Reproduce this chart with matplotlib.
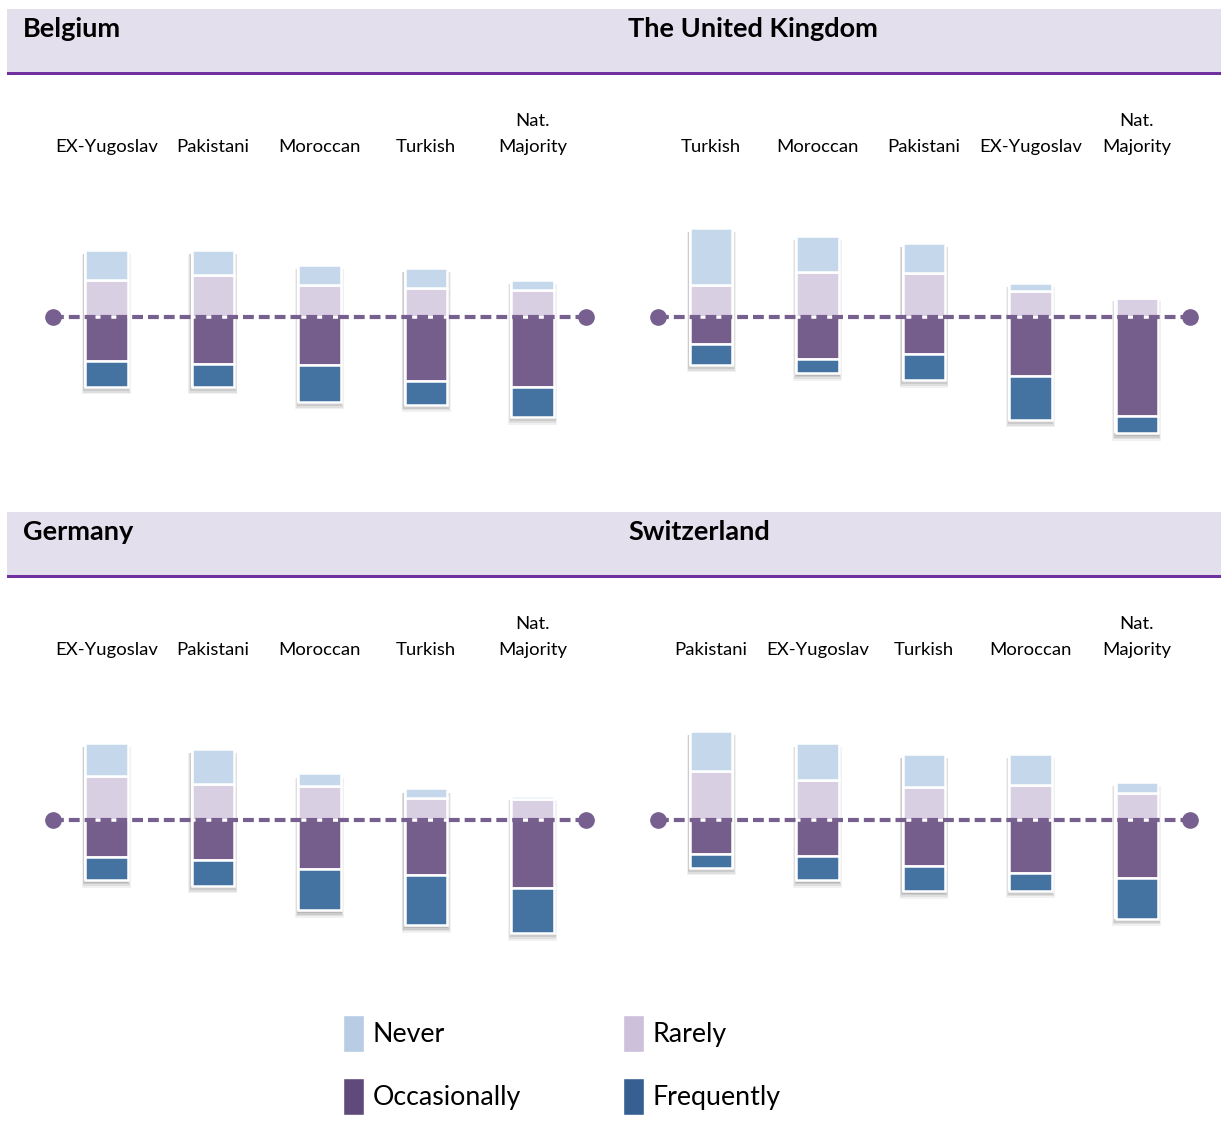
import matplotlib
matplotlib.use("Agg")
import matplotlib.pyplot as plt
from matplotlib.patches import Patch, Rectangle

plt.rcParams["font.family"] = ["Lato", "DejaVu Sans"]

W, H = 1221, 1135

# Antwortkategorien
LEVELS = ["Never", "Rarely", "Occasionally", "Frequently"]
BAR_COLORS = ["#c5d8eb", "#d8cfe2", "#765e8c", "#4473a1"]
LEGEND_COLORS = ["#b8cce4", "#ccc0da", "#604a7b", "#366092"]

# Belgium
be_groups = ["EX-Yugoslav", "Pakistani", "Moroccan", "Turkish", "Nat.\nMajority"]
be_never = [22, 18, 15, 15, 7]
be_rarely = [27, 31, 23, 21, 20]
be_occ = [32, 34, 35, 47, 51]
be_freq = [19, 17, 27, 17, 22]

# The United Kingdom
uk_groups = ["Turkish", "Moroccan", "Pakistani", "EX-Yugoslav", "Nat.\nMajority"]
uk_never = [42, 26, 22, 6, 1]
uk_rarely = [23, 33, 32, 19, 14]
uk_occ = [20, 31, 27, 43, 72]
uk_freq = [15, 10, 19, 32, 13]

# Germany
de_groups = ["EX-Yugoslav", "Pakistani", "Moroccan", "Turkish", "Nat.\nMajority"]
de_never = [24, 26, 9, 7, 2]
de_rarely = [32, 26, 25, 16, 15.5]
de_occ = [27, 29, 36, 40.5, 49.5]
de_freq = [17, 19, 30, 36.5, 33]

# Switzerland
ch_groups = ["Pakistani", "EX-Yugoslav", "Turkish", "Moroccan", "Nat.\nMajority"]
ch_never = [29, 27, 24, 23, 8]
ch_rarely = [36, 29, 24, 25.5, 20]
ch_occ = [25, 26.5, 33.5, 38.5, 42.5]
ch_freq = [10, 17.5, 18.5, 13, 29.5]

PANELS = [
    ("Belgium", be_groups, be_never, be_rarely, be_occ, be_freq, 0, 0),
    ("The United Kingdom", uk_groups, uk_never, uk_rarely, uk_occ, uk_freq, 0, 1),
    ("Germany", de_groups, de_never, de_rarely, de_occ, de_freq, 1, 0),
    ("Switzerland", ch_groups, ch_never, ch_rarely, ch_occ, ch_freq, 1, 1),
]

LINE_COLOR = "#77608f"
BAR_W = 0.4


def fx(px):
    return px / W


def fy(py):
    return 1 - py / H


fig = plt.figure(figsize=(W / 100, H / 100), dpi=100)

# Kopfbänder
for row, top in enumerate([9, 512]):
    fig.add_artist(Rectangle((fx(7), fy(top + 63)), fx(1214), 63 / H,
                             transform=fig.transFigure, facecolor="#e4dfec",
                             edgecolor="none", zorder=0))
    fig.add_artist(Rectangle((fx(7), fy(top + 66)), fx(1214), 3.2 / H,
                             transform=fig.transFigure, facecolor="#7030a0",
                             edgecolor="none", zorder=1))


def draw_panel(title, groups, never, rarely, occ, freq, row, col):
    base = 317 if row == 0 else 820
    left = 53 if col == 0 else 658
    right = 586 if col == 0 else 1190
    ax = fig.add_axes([fx(left), fy(base + 137), fx(right - left), 274 / H])
    ax.set_xlim(-0.5, len(groups) - 0.5)
    ax.set_ylim(-100, 100)
    x = list(range(len(groups)))

    up_total = [n + r for n, r in zip(never, rarely)]
    down_total = [o + f for o, f in zip(occ, freq)]

    # weicher Schatten unter den Balken
    for grow, drop, a in [(0.06, 5.5, 0.08), (0.045, 4.2, 0.11),
                          (0.03, 3.0, 0.14), (0.015, 1.8, 0.17)]:
        ax.bar(x, [u + d + drop - 3 for u, d in zip(up_total, down_total)],
               BAR_W + grow, bottom=[-d - drop for d in down_total],
               color="#555555", alpha=a, edgecolor="none", zorder=1)
    ax.bar(x, [u + d for u, d in zip(up_total, down_total)], BAR_W + 0.02,
           bottom=[-d for d in down_total], color="white", edgecolor="none",
           zorder=1.5)

    kw = dict(width=BAR_W, edgecolor="white", linewidth=1.8, zorder=2)
    ax.bar(x, rarely, color=BAR_COLORS[1], **kw)
    ax.bar(x, never, bottom=rarely, color=BAR_COLORS[0], **kw)
    ax.bar(x, [-v for v in occ], color=BAR_COLORS[2], **kw)
    ax.bar(x, [-v for v in freq], bottom=[-v for v in occ],
           color=BAR_COLORS[3], **kw)

    ax.plot([-0.5, len(groups) - 0.5], [0, 0], color=LINE_COLOR, lw=3,
            dashes=(2.6, 1.2), zorder=4, clip_on=False)
    ax.plot([-0.5, len(groups) - 0.5], [0, 0], "o", color=LINE_COLOR,
            markersize=11, zorder=5, clip_on=False)

    ax.set_xticks(x)
    ax.set_xticklabels(groups, fontsize=13.3, linespacing=1.75)
    ax.xaxis.set_ticks_position("top")
    ax.tick_params(axis="x", length=0, pad=18)
    ax.set_yticks([])
    for s in ax.spines.values():
        s.set_visible(False)
    ax.patch.set_alpha(0)

    band_top = 9 if row == 0 else 512
    fig.text(fx(23 if col == 0 else 628), fy(band_top + 20), title,
             fontsize=19.5, fontweight="bold", va="center", ha="left")


for panel in PANELS:
    draw_panel(*panel)

# Legende (spaltenweise: Never/Occasionally, Rarely/Frequently)
order = [0, 2, 1, 3]
handles = [Patch(facecolor=LEGEND_COLORS[i], edgecolor="white", label=LEVELS[i])
           for i in order]
fig.legend(handles=handles, ncol=2, loc="upper left",
           bbox_to_anchor=(fx(343), fy(1015)), frameon=False, fontsize=19.3,
           handlelength=0.8, handleheight=1.75, handletextpad=0.3,
           columnspacing=3.8, labelspacing=0.97, borderpad=0, borderaxespad=0)

fig.savefig("out.png", dpi=100)
